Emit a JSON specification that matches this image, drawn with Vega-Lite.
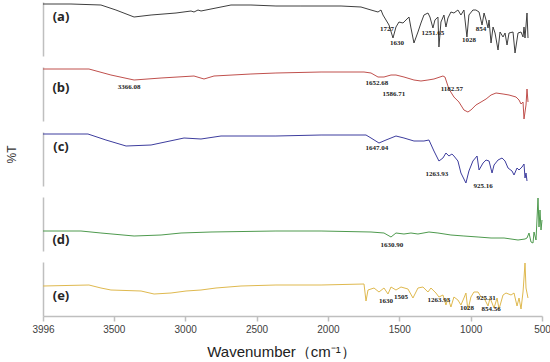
{
  "$schema": "https://vega.github.io/schema/vega-lite/v6.json",
  "padding": {"left": 5, "top": 2, "right": 0, "bottom": 0},
  "background": "white",
  "config": {
    "view": {"stroke": null},
    "font": "Liberation Sans",
    "axis": {"domainColor": "#bfbfbf", "domainWidth": 1.5, "grid": false}
  },
  "spacing": 11,
  "bounds": "flush",
  "datasets": {
    "spectra": [
      {"s":"a","wn":3996,"t":52},{"s":"a","wn":3800,"t":52},{"s":"a","wn":3590,"t":51},{"s":"a","wn":3485,"t":46},{"s":"a","wn":3358,"t":39},{"s":"a","wn":3239,"t":41},{"s":"a","wn":3064,"t":43},{"s":"a","wn":2959,"t":45},{"s":"a","wn":2938,"t":44},{"s":"a","wn":2910,"t":46},{"s":"a","wn":2889,"t":45},{"s":"a","wn":2784,"t":48},{"s":"a","wn":2679,"t":51},{"s":"a","wn":2539,"t":51},{"s":"a","wn":2364,"t":50},{"s":"a","wn":2189,"t":50},{"s":"a","wn":1908,"t":50},{"s":"a","wn":1768,"t":49},{"s":"a","wn":1698,"t":46},{"s":"a","wn":1649,"t":44},{"s":"a","wn":1628,"t":46},{"s":"a","wn":1614,"t":41},{"s":"a","wn":1593,"t":36},{"s":"a","wn":1572,"t":31},{"s":"a","wn":1544,"t":18},{"s":"a","wn":1523,"t":29},{"s":"a","wn":1502,"t":34},{"s":"a","wn":1474,"t":33},{"s":"a","wn":1453,"t":36},{"s":"a","wn":1432,"t":39},{"s":"a","wn":1418,"t":28},{"s":"a","wn":1397,"t":13},{"s":"a","wn":1369,"t":24},{"s":"a","wn":1348,"t":33},{"s":"a","wn":1327,"t":41},{"s":"a","wn":1299,"t":43},{"s":"a","wn":1285,"t":39},{"s":"a","wn":1264,"t":28},{"s":"a","wn":1250,"t":36},{"s":"a","wn":1229,"t":39},{"s":"a","wn":1222,"t":9},{"s":"a","wn":1208,"t":34},{"s":"a","wn":1187,"t":41},{"s":"a","wn":1173,"t":29},{"s":"a","wn":1159,"t":38},{"s":"a","wn":1138,"t":44},{"s":"a","wn":1117,"t":43},{"s":"a","wn":1089,"t":46},{"s":"a","wn":1068,"t":41},{"s":"a","wn":1047,"t":46},{"s":"a","wn":1026,"t":19},{"s":"a","wn":1012,"t":41},{"s":"a","wn":984,"t":46},{"s":"a","wn":963,"t":46},{"s":"a","wn":941,"t":44},{"s":"a","wn":920,"t":31},{"s":"a","wn":906,"t":43},{"s":"a","wn":892,"t":36},{"s":"a","wn":878,"t":28},{"s":"a","wn":871,"t":36},{"s":"a","wn":857,"t":13},{"s":"a","wn":843,"t":29},{"s":"a","wn":829,"t":23},{"s":"a","wn":808,"t":6},{"s":"a","wn":794,"t":24},{"s":"a","wn":773,"t":19},{"s":"a","wn":759,"t":23},{"s":"a","wn":745,"t":11},{"s":"a","wn":731,"t":23},{"s":"a","wn":703,"t":24},{"s":"a","wn":689,"t":3},{"s":"a","wn":668,"t":23},{"s":"a","wn":647,"t":24},{"s":"a","wn":633,"t":19},{"s":"a","wn":626,"t":29},{"s":"a","wn":619,"t":18},{"s":"a","wn":605,"t":43},{"s":"a","wn":598,"t":18},
      {"s":"b","wn":3996,"t":52},{"s":"b","wn":3674,"t":52},{"s":"b","wn":3520,"t":46},{"s":"b","wn":3358,"t":41},{"s":"b","wn":3169,"t":43},{"s":"b","wn":2938,"t":45},{"s":"b","wn":2868,"t":42},{"s":"b","wn":2798,"t":45},{"s":"b","wn":2539,"t":47},{"s":"b","wn":2364,"t":48},{"s":"b","wn":2048,"t":49},{"s":"b","wn":1747,"t":49},{"s":"b","wn":1698,"t":48},{"s":"b","wn":1649,"t":44},{"s":"b","wn":1607,"t":44},{"s":"b","wn":1558,"t":46},{"s":"b","wn":1523,"t":46},{"s":"b","wn":1467,"t":44},{"s":"b","wn":1397,"t":41},{"s":"b","wn":1348,"t":40},{"s":"b","wn":1299,"t":41},{"s":"b","wn":1257,"t":42},{"s":"b","wn":1194,"t":45},{"s":"b","wn":1180,"t":44},{"s":"b","wn":1152,"t":32},{"s":"b","wn":1117,"t":24},{"s":"b","wn":1082,"t":19},{"s":"b","wn":1047,"t":11},{"s":"b","wn":1019,"t":9},{"s":"b","wn":998,"t":11},{"s":"b","wn":963,"t":16},{"s":"b","wn":927,"t":19},{"s":"b","wn":892,"t":22},{"s":"b","wn":857,"t":26},{"s":"b","wn":822,"t":28},{"s":"b","wn":773,"t":27},{"s":"b","wn":731,"t":26},{"s":"b","wn":682,"t":24},{"s":"b","wn":661,"t":21},{"s":"b","wn":647,"t":17},{"s":"b","wn":633,"t":19},{"s":"b","wn":626,"t":2},{"s":"b","wn":612,"t":16},{"s":"b","wn":605,"t":32},{"s":"b","wn":598,"t":19},
      {"s":"c","wn":3996,"t":52},{"s":"c","wn":3681,"t":52},{"s":"c","wn":3555,"t":46},{"s":"c","wn":3414,"t":40},{"s":"c","wn":3239,"t":41},{"s":"c","wn":3008,"t":48},{"s":"c","wn":2889,"t":47},{"s":"c","wn":2749,"t":50},{"s":"c","wn":2364,"t":50},{"s":"c","wn":2048,"t":51},{"s":"c","wn":1733,"t":51},{"s":"c","wn":1698,"t":48},{"s":"c","wn":1642,"t":43},{"s":"c","wn":1593,"t":46},{"s":"c","wn":1523,"t":50},{"s":"c","wn":1467,"t":48},{"s":"c","wn":1397,"t":45},{"s":"c","wn":1327,"t":45},{"s":"c","wn":1292,"t":46},{"s":"c","wn":1257,"t":35},{"s":"c","wn":1222,"t":25},{"s":"c","wn":1194,"t":28},{"s":"c","wn":1173,"t":33},{"s":"c","wn":1152,"t":30},{"s":"c","wn":1131,"t":32},{"s":"c","wn":1117,"t":30},{"s":"c","wn":1089,"t":25},{"s":"c","wn":1068,"t":13},{"s":"c","wn":1033,"t":3},{"s":"c","wn":1012,"t":15},{"s":"c","wn":984,"t":25},{"s":"c","wn":955,"t":30},{"s":"c","wn":941,"t":16},{"s":"c","wn":913,"t":23},{"s":"c","wn":892,"t":26},{"s":"c","wn":871,"t":25},{"s":"c","wn":850,"t":13},{"s":"c","wn":836,"t":21},{"s":"c","wn":808,"t":26},{"s":"c","wn":780,"t":28},{"s":"c","wn":759,"t":25},{"s":"c","wn":738,"t":18},{"s":"c","wn":710,"t":15},{"s":"c","wn":696,"t":11},{"s":"c","wn":675,"t":18},{"s":"c","wn":661,"t":16},{"s":"c","wn":640,"t":19},{"s":"c","wn":626,"t":22},{"s":"c","wn":619,"t":8},{"s":"c","wn":612,"t":13},{"s":"c","wn":605,"t":5},
      {"s":"d","wn":3996,"t":20},{"s":"d","wn":3730,"t":20},{"s":"d","wn":3590,"t":18},{"s":"d","wn":3358,"t":15},{"s":"d","wn":3169,"t":16},{"s":"d","wn":3029,"t":18},{"s":"d","wn":2819,"t":19},{"s":"d","wn":2364,"t":20},{"s":"d","wn":2048,"t":20},{"s":"d","wn":1698,"t":19},{"s":"d","wn":1607,"t":18},{"s":"d","wn":1558,"t":14},{"s":"d","wn":1523,"t":18},{"s":"d","wn":1467,"t":17},{"s":"d","wn":1418,"t":18},{"s":"d","wn":1369,"t":17},{"s":"d","wn":1292,"t":19},{"s":"d","wn":1229,"t":18},{"s":"d","wn":1138,"t":16},{"s":"d","wn":1047,"t":15},{"s":"d","wn":948,"t":14},{"s":"d","wn":857,"t":13},{"s":"d","wn":766,"t":13},{"s":"d","wn":668,"t":11},{"s":"d","wn":619,"t":12},{"s":"d","wn":605,"t":13},{"s":"d","wn":591,"t":18},{"s":"d","wn":577,"t":9},{"s":"d","wn":563,"t":8},{"s":"d","wn":556,"t":19},{"s":"d","wn":542,"t":11},{"s":"d","wn":528,"t":53},{"s":"d","wn":521,"t":24},{"s":"d","wn":514,"t":41},{"s":"d","wn":507,"t":21},{"s":"d","wn":500,"t":31},
      {"s":"e","wn":3996,"t":30},{"s":"e","wn":3674,"t":31},{"s":"e","wn":3590,"t":28},{"s":"e","wn":3520,"t":26},{"s":"e","wn":3309,"t":25},{"s":"e","wn":3218,"t":22},{"s":"e","wn":3099,"t":23},{"s":"e","wn":2994,"t":25},{"s":"e","wn":2889,"t":26},{"s":"e","wn":2784,"t":28},{"s":"e","wn":2609,"t":30},{"s":"e","wn":2364,"t":31},{"s":"e","wn":2048,"t":31},{"s":"e","wn":1747,"t":32},{"s":"e","wn":1733,"t":15},{"s":"e","wn":1719,"t":26},{"s":"e","wn":1677,"t":28},{"s":"e","wn":1642,"t":24},{"s":"e","wn":1607,"t":28},{"s":"e","wn":1579,"t":22},{"s":"e","wn":1558,"t":29},{"s":"e","wn":1523,"t":26},{"s":"e","wn":1488,"t":29},{"s":"e","wn":1439,"t":27},{"s":"e","wn":1404,"t":18},{"s":"e","wn":1369,"t":28},{"s":"e","wn":1334,"t":29},{"s":"e","wn":1299,"t":24},{"s":"e","wn":1278,"t":28},{"s":"e","wn":1243,"t":23},{"s":"e","wn":1222,"t":19},{"s":"e","wn":1194,"t":21},{"s":"e","wn":1173,"t":11},{"s":"e","wn":1159,"t":18},{"s":"e","wn":1138,"t":9},{"s":"e","wn":1117,"t":19},{"s":"e","wn":1089,"t":16},{"s":"e","wn":1068,"t":11},{"s":"e","wn":1047,"t":18},{"s":"e","wn":1033,"t":23},{"s":"e","wn":1019,"t":6},{"s":"e","wn":998,"t":19},{"s":"e","wn":977,"t":24},{"s":"e","wn":948,"t":24},{"s":"e","wn":927,"t":19},{"s":"e","wn":906,"t":18},{"s":"e","wn":878,"t":10},{"s":"e","wn":864,"t":18},{"s":"e","wn":836,"t":8},{"s":"e","wn":815,"t":18},{"s":"e","wn":801,"t":7},{"s":"e","wn":773,"t":21},{"s":"e","wn":752,"t":23},{"s":"e","wn":717,"t":21},{"s":"e","wn":696,"t":23},{"s":"e","wn":675,"t":10},{"s":"e","wn":661,"t":18},{"s":"e","wn":647,"t":7},{"s":"e","wn":633,"t":24},{"s":"e","wn":626,"t":38},{"s":"e","wn":619,"t":53},{"s":"e","wn":612,"t":28},{"s":"e","wn":598,"t":18}
    ],
    "tags": [
      {"s":"a","wn":3870,"t":39,"label":"(a)"},
      {"s":"b","wn":3870,"t":33,"label":"(b)"},
      {"s":"c","wn":3870,"t":39,"label":"(c)"},
      {"s":"d","wn":3870,"t":11,"label":"(d)"},
      {"s":"e","wn":3870,"t":20,"label":"(e)"}
    ],
    "peaks": [
      {"s":"a","wn":1586,"t":27,"label":"1727"},
      {"s":"a","wn":1516,"t":13,"label":"1630"},
      {"s":"a","wn":1264,"t":23,"label":"1251.65"},
      {"s":"a","wn":1012,"t":16,"label":"1028"},
      {"s":"a","wn":927,"t":27,"label":"854"},
      {"s":"b","wn":3393,"t":34,"label":"3366.08"},
      {"s":"b","wn":1656,"t":38,"label":"1652.68"},
      {"s":"b","wn":1537,"t":27,"label":"1586.71"},
      {"s":"b","wn":1131,"t":32,"label":"1182.57"},
      {"s":"c","wn":1656,"t":38,"label":"1647.04"},
      {"s":"c","wn":1236,"t":12,"label":"1263.93"},
      {"s":"c","wn":913,"t":0,"label":"925.16"},
      {"s":"d","wn":1551,"t":6,"label":"1630.90"},
      {"s":"e","wn":1593,"t":15,"label":"1630"},
      {"s":"e","wn":1488,"t":19,"label":"1505"},
      {"s":"e","wn":1222,"t":16,"label":"1263.93"},
      {"s":"e","wn":1026,"t":8,"label":"1028"},
      {"s":"e","wn":892,"t":18,"label":"925.31"},
      {"s":"e","wn":857,"t":7,"label":"854.56"}
    ]
  },
  "vconcat": [
    {
      "width": 499, "height": 54,
      "layer": [
        {"data": {"name": "spectra"}, "transform": [{"filter": "datum.s === 'a'"}],
         "mark": {"type": "line", "color": "#3f3f3f", "strokeWidth": 1},
         "encoding": {
           "x": {"field": "wn", "type": "quantitative", "scale": {"domain": [3996, 500], "nice": false, "zero": false}, "axis": null},
           "y": {"field": "t", "type": "quantitative", "scale": {"domain": [0, 54], "nice": false, "zero": false}, "axis": {"labels": false, "ticks": false, "title": null}}
         }},
        {"data": {"name": "tags"}, "transform": [{"filter": "datum.s === 'a'"}],
         "mark": {"type": "text", "font": "Open Sans", "fontWeight": "bold", "fontSize": 13, "color": "#262626", "align": "center", "baseline": "middle"},
         "encoding": {"x": {"field": "wn", "type": "quantitative"}, "y": {"field": "t", "type": "quantitative"}, "text": {"field": "label"}}},
        {"data": {"name": "peaks"}, "transform": [{"filter": "datum.s === 'a'"}],
         "mark": {"type": "text", "font": "Liberation Serif", "fontWeight": "bold", "fontSize": 7, "color": "#222222", "align": "center", "baseline": "middle"},
         "encoding": {"x": {"field": "wn", "type": "quantitative"}, "y": {"field": "t", "type": "quantitative"}, "text": {"field": "label"}}}
      ]
    },
    {
      "width": 499, "height": 54,
      "layer": [
        {"data": {"name": "spectra"}, "transform": [{"filter": "datum.s === 'b'"}],
         "mark": {"type": "line", "color": "#c0504d", "strokeWidth": 1},
         "encoding": {
           "x": {"field": "wn", "type": "quantitative", "scale": {"domain": [3996, 500], "nice": false, "zero": false}, "axis": null},
           "y": {"field": "t", "type": "quantitative", "scale": {"domain": [0, 54], "nice": false, "zero": false}, "axis": {"labels": false, "ticks": false, "title": null}}
         }},
        {"data": {"name": "tags"}, "transform": [{"filter": "datum.s === 'b'"}],
         "mark": {"type": "text", "font": "Open Sans", "fontWeight": "bold", "fontSize": 13, "color": "#262626", "align": "center", "baseline": "middle"},
         "encoding": {"x": {"field": "wn", "type": "quantitative"}, "y": {"field": "t", "type": "quantitative"}, "text": {"field": "label"}}},
        {"data": {"name": "peaks"}, "transform": [{"filter": "datum.s === 'b'"}],
         "mark": {"type": "text", "font": "Liberation Serif", "fontWeight": "bold", "fontSize": 7, "color": "#222222", "align": "center", "baseline": "middle"},
         "encoding": {"x": {"field": "wn", "type": "quantitative"}, "y": {"field": "t", "type": "quantitative"}, "text": {"field": "label"}}}
      ]
    },
    {
      "width": 499, "height": 54,
      "layer": [
        {"data": {"name": "spectra"}, "transform": [{"filter": "datum.s === 'c'"}],
         "mark": {"type": "line", "color": "#3d3d9e", "strokeWidth": 1},
         "encoding": {
           "x": {"field": "wn", "type": "quantitative", "scale": {"domain": [3996, 500], "nice": false, "zero": false}, "axis": null},
           "y": {"field": "t", "type": "quantitative", "scale": {"domain": [0, 54], "nice": false, "zero": false}, "axis": {"labels": false, "ticks": false, "title": "%T", "titleFont": "Liberation Sans", "titleFontSize": 12, "titleFontWeight": "normal", "titleColor": "#333333", "titlePadding": 25, "titleY": 22}}
         }},
        {"data": {"name": "tags"}, "transform": [{"filter": "datum.s === 'c'"}],
         "mark": {"type": "text", "font": "Open Sans", "fontWeight": "bold", "fontSize": 13, "color": "#262626", "align": "center", "baseline": "middle"},
         "encoding": {"x": {"field": "wn", "type": "quantitative"}, "y": {"field": "t", "type": "quantitative"}, "text": {"field": "label"}}},
        {"data": {"name": "peaks"}, "transform": [{"filter": "datum.s === 'c'"}],
         "mark": {"type": "text", "font": "Liberation Serif", "fontWeight": "bold", "fontSize": 7, "color": "#222222", "align": "center", "baseline": "middle"},
         "encoding": {"x": {"field": "wn", "type": "quantitative"}, "y": {"field": "t", "type": "quantitative"}, "text": {"field": "label"}}}
      ]
    },
    {
      "width": 499, "height": 54,
      "layer": [
        {"data": {"name": "spectra"}, "transform": [{"filter": "datum.s === 'd'"}],
         "mark": {"type": "line", "color": "#4e9a4e", "strokeWidth": 1},
         "encoding": {
           "x": {"field": "wn", "type": "quantitative", "scale": {"domain": [3996, 500], "nice": false, "zero": false}, "axis": null},
           "y": {"field": "t", "type": "quantitative", "scale": {"domain": [0, 54], "nice": false, "zero": false}, "axis": {"labels": false, "ticks": false, "title": null}}
         }},
        {"data": {"name": "tags"}, "transform": [{"filter": "datum.s === 'd'"}],
         "mark": {"type": "text", "font": "Open Sans", "fontWeight": "bold", "fontSize": 13, "color": "#262626", "align": "center", "baseline": "middle"},
         "encoding": {"x": {"field": "wn", "type": "quantitative"}, "y": {"field": "t", "type": "quantitative"}, "text": {"field": "label"}}},
        {"data": {"name": "peaks"}, "transform": [{"filter": "datum.s === 'd'"}],
         "mark": {"type": "text", "font": "Liberation Serif", "fontWeight": "bold", "fontSize": 7, "color": "#222222", "align": "center", "baseline": "middle"},
         "encoding": {"x": {"field": "wn", "type": "quantitative"}, "y": {"field": "t", "type": "quantitative"}, "text": {"field": "label"}}}
      ]
    },
    {
      "width": 499, "height": 54,
      "layer": [
        {"data": {"name": "spectra"}, "transform": [{"filter": "datum.s === 'e'"}],
         "mark": {"type": "line", "color": "#dfb94f", "strokeWidth": 1},
         "encoding": {
           "x": {"field": "wn", "type": "quantitative", "scale": {"domain": [3996, 500], "nice": false, "zero": false},
                 "axis": {"values": [3996, 3500, 3000, 2500, 2000, 1500, 1000, 500], "format": "d", "labelOverlap": false, "labelFlush": false, "labelFont": "Liberation Sans", "labelFontSize": 10, "labelColor": "#404040", "tickColor": "#bfbfbf", "tickSize": 5, "tickWidth": 1.5, "labelPadding": 3,
                          "title": "Wavenumber（cm⁻¹）", "titleFont": "Liberation Sans", "titleFontSize": 15, "titleFontWeight": "normal", "titleColor": "#222222", "titlePadding": 10, "titleX": 238}},
           "y": {"field": "t", "type": "quantitative", "scale": {"domain": [0, 54], "nice": false, "zero": false}, "axis": {"labels": false, "ticks": false, "title": null}}
         }},
        {"data": {"name": "tags"}, "transform": [{"filter": "datum.s === 'e'"}],
         "mark": {"type": "text", "font": "Open Sans", "fontWeight": "bold", "fontSize": 13, "color": "#262626", "align": "center", "baseline": "middle"},
         "encoding": {"x": {"field": "wn", "type": "quantitative"}, "y": {"field": "t", "type": "quantitative"}, "text": {"field": "label"}}},
        {"data": {"name": "peaks"}, "transform": [{"filter": "datum.s === 'e'"}],
         "mark": {"type": "text", "font": "Liberation Serif", "fontWeight": "bold", "fontSize": 7, "color": "#222222", "align": "center", "baseline": "middle"},
         "encoding": {"x": {"field": "wn", "type": "quantitative"}, "y": {"field": "t", "type": "quantitative"}, "text": {"field": "label"}}}
      ]
    }
  ]
}
